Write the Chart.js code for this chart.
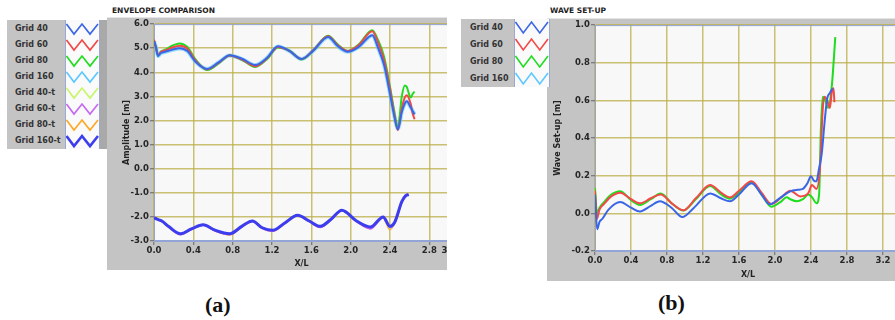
<!DOCTYPE html>
<html>
<head>
<meta charset="utf-8">
<script src="https://cdn.jsdelivr.net/npm/chart.js@4/dist/chart.umd.min.js"></script>
<style>
  html, body { margin: 0; padding: 0; background: #fff; width: 895px; height: 320px; overflow: hidden; }
  body { position: relative; font-family: "DejaVu Sans", sans-serif; }
  .title { position: absolute; font: bold 7.5px "DejaVu Sans", sans-serif; color: #222; white-space: nowrap; }
  .frame { position: absolute; background: #c4c4c4; overflow: hidden; border-top: 1px solid #e4e4e4; box-sizing: border-box; }
  .frame canvas { display: block; }
  .legend { position: absolute; background: #c4c4c4; z-index: 2; box-sizing: border-box; }
  .legend .name { position: absolute; font: bold 8px "DejaVu Sans", sans-serif; color: #333; white-space: nowrap; }
  .legend .swatches { position: absolute; top: 0; bottom: 0; background: #fafafa; border-left: 1px solid #9aa8d4; border-right: 1px solid #9aa8d4; }
  .legend .shade { position: absolute; top: 0; bottom: 0; background: #a9a9a9; }
  .caption { position: absolute; font: bold 22px "Liberation Serif", serif; color: #111; line-height: 22px; }
</style>
</head>
<body>

<div class="title" style="left:112px; top:6px;">ENVELOPE COMPARISON</div>
<div class="title" style="left:550px; top:6px;">WAVE SET-UP</div>

<div id="legendEnv" class="legend" style="left:7px; top:20px; width:100px; height:129px;"></div>
<div class="frame" style="left:107px; top:17px; width:340px; height:253px;">
  <canvas id="envChart" width="362" height="253"></canvas>
</div>

<div id="legendSetup" class="legend" style="left:461px; top:19px; width:89px; height:68px;"></div>
<div class="frame" style="left:547px; top:18px; width:348px; height:263px;">
  <canvas id="setupChart" width="370" height="263"></canvas>
</div>

<div class="caption" style="left:205px; top:294px;">(a)</div>
<div class="caption" style="left:658px; top:292px;">(b)</div>

<script>
// ---------- Envelope comparison: crest (upper) and trough (lower) envelopes ----------
const envNames = ['Grid 40', 'Grid 60', 'Grid 80', 'Grid 160', 'Grid 40-t', 'Grid 60-t', 'Grid 80-t', 'Grid 160-t'];

const crestX   = [0.00, 0.02, 0.04, 0.07, 0.12, 0.18, 0.26, 0.34, 0.42, 0.54, 0.66, 0.77, 0.90, 1.03, 1.15, 1.26, 1.38, 1.50,
                  1.62, 1.77, 1.87, 1.97, 2.08, 2.22, 2.28, 2.34, 2.40, 2.44, 2.48, 2.52, 2.55, 2.57, 2.61, 2.63, 2.65];
const crest40  = [5.30, 5.05, 4.68, 4.80, 4.86, 4.93, 5.00, 4.88, 4.45, 4.14, 4.42, 4.71, 4.55, 4.30, 4.60, 5.08, 4.88, 4.55,
                  4.90, 5.46, 5.08, 4.85, 5.05, 5.54, 5.00, 4.30, 3.10, 2.25, 1.64, 2.35, 2.70, 2.80, 2.55, 2.40, 2.25];
const crest60  = [5.35, 5.00, 4.72, 4.85, 4.92, 5.02, 5.10, 4.98, 4.50, 4.12, 4.40, 4.70, 4.52, 4.25, 4.58, 5.05, 4.88, 4.55,
                  4.92, 5.50, 5.12, 4.88, 5.12, 5.70, 5.22, 4.50, 3.30, 2.35, 1.60, 2.50, 2.95, 3.05, 2.70, 2.30, 2.05];
const crest80  = [5.32, 5.02, 4.70, 4.86, 4.95, 5.10, 5.20, 5.05, 4.55, 4.10, 4.38, 4.70, 4.50, 4.22, 4.55, 5.03, 4.90, 4.53,
                  4.90, 5.52, 5.15, 4.88, 5.15, 5.75, 5.32, 4.65, 3.40, 2.45, 1.72, 3.00, 3.45, 3.40, 2.95, 3.10, 3.20];
const crest160 = [5.28, 5.04, 4.67, 4.79, 4.85, 4.92, 4.99, 4.87, 4.45, 4.14, 4.42, 4.70, 4.54, 4.30, 4.60, 5.07, 4.87, 4.55,
                  4.90, 5.45, 5.07, 4.85, 5.05, 5.53, 5.00, 4.30, 3.12, 2.27, 1.66, 2.36, 2.70, 2.79, 2.55, 2.40, 2.26];

const troughX   = [0.00, 0.05, 0.08, 0.15, 0.27, 0.38, 0.50, 0.62, 0.77, 0.90, 1.00, 1.10, 1.21, 1.33,
                   1.46, 1.58, 1.69, 1.80, 1.91, 2.06, 2.20, 2.33, 2.40, 2.45, 2.52, 2.56, 2.59];
const trough40  = [-2.03, -2.11, -2.17, -2.40, -2.71, -2.51, -2.33, -2.56, -2.72, -2.38, -2.17, -2.45, -2.57, -2.26,
                   -1.94, -2.18, -2.42, -2.11, -1.73, -2.18, -2.46, -2.01, -2.47, -2.22, -1.38, -1.13, -1.08];
const trough60  = [-2.02, -2.13, -2.19, -2.42, -2.73, -2.52, -2.34, -2.57, -2.73, -2.39, -2.18, -2.46, -2.59, -2.27,
                   -1.94, -2.19, -2.43, -2.12, -1.73, -2.19, -2.49, -2.02, -2.44, -2.23, -1.38, -1.13, -1.08];
const trough80  = [-2.04, -2.12, -2.18, -2.41, -2.72, -2.51, -2.33, -2.57, -2.74, -2.38, -2.17, -2.45, -2.58, -2.26,
                   -1.93, -2.18, -2.42, -2.11, -1.72, -2.18, -2.47, -2.01, -2.52, -2.22, -1.38, -1.12, -1.07];
const trough160 = [-2.04, -2.12, -2.17, -2.40, -2.70, -2.50, -2.33, -2.55, -2.70, -2.37, -2.17, -2.45, -2.55, -2.25,
                   -1.93, -2.17, -2.39, -2.10, -1.72, -2.17, -2.42, -2.00, -2.39, -2.20, -1.37, -1.12, -1.07];

const envXTicks = [0.0, 0.4, 0.8, 1.2, 1.6, 2.0, 2.4, 2.8, 3.0];
const envYTicks = [-3, -2, -1, 0, 1, 2, 3, 4, 5, 6];

// ---------- Wave set-up ----------
const setupNames = ['Grid 40', 'Grid 60', 'Grid 80', 'Grid 160'];

const setupX40 = [0.00, 0.01, 0.025, 0.05, 0.08, 0.15, 0.28, 0.40, 0.50, 0.62, 0.72, 0.85, 0.97, 1.10, 1.28, 1.40, 1.50, 1.60,
                  1.74, 1.85, 1.94, 2.05, 2.17, 2.25, 2.31, 2.36, 2.40, 2.43, 2.46, 2.49, 2.52, 2.55, 2.58, 2.61, 2.64];
const setup40  = [0.10, 0.00, -0.085, -0.045, -0.03, 0.02, 0.06, 0.03, 0.01, 0.04, 0.064, 0.03, -0.02, 0.03, 0.106, 0.08, 0.064, 0.10,
                  0.16, 0.10, 0.048, 0.08, 0.117, 0.125, 0.13, 0.16, 0.197, 0.175, 0.17, 0.24, 0.32, 0.48, 0.61, 0.64, 0.665];

const setupX60 = [0.00, 0.01, 0.02, 0.05, 0.10, 0.18, 0.28, 0.40, 0.50, 0.62, 0.73, 0.86, 0.98, 1.12, 1.28, 1.40, 1.50, 1.60,
                  1.74, 1.85, 1.96, 2.06, 2.17, 2.28, 2.37, 2.41, 2.46, 2.50, 2.53, 2.55, 2.58, 2.61, 2.63, 2.65, 2.66];
const setup60  = [0.12, 0.03, -0.03, 0.02, 0.05, 0.09, 0.11, 0.075, 0.053, 0.08, 0.10, 0.05, 0.016, 0.08, 0.15, 0.11, 0.085, 0.12,
                  0.17, 0.11, 0.05, 0.08, 0.12, 0.09, 0.107, 0.15, 0.13, 0.24, 0.55, 0.62, 0.60, 0.56, 0.64, 0.665, 0.59];

const setupX80 = [0.00, 0.01, 0.02, 0.05, 0.10, 0.18, 0.28, 0.40, 0.50, 0.62, 0.73, 0.86, 0.98, 1.12, 1.28, 1.40, 1.50, 1.60,
                  1.74, 1.85, 1.96, 2.06, 2.13, 2.17, 2.24, 2.31, 2.37, 2.42, 2.46, 2.49, 2.51, 2.53, 2.56, 2.59, 2.63, 2.67];
const setup80  = [0.135, 0.06, 0.00, 0.03, 0.06, 0.10, 0.118, 0.07, 0.045, 0.075, 0.105, 0.05, 0.015, 0.075, 0.145, 0.10, 0.078, 0.11,
                  0.165, 0.10, 0.035, 0.06, 0.085, 0.075, 0.064, 0.075, 0.10, 0.08, 0.053, 0.10, 0.45, 0.62, 0.60, 0.56, 0.67, 0.936];

const setupX160 = [];
const setup160  = [];

const setupXTicks = [0.0, 0.4, 0.8, 1.2, 1.6, 2.0, 2.4, 2.8, 3.2];
const setupYTicks = [-0.2, 0.0, 0.2, 0.4, 0.6, 0.8, 1.0];

// ---------- styling ----------
const envColors   = ['#3a66e6', '#f24848', '#1fdc1f', '#5cc8ff', '#c8f56a', '#c66af2', '#ffa826', '#3d3df0'];
const setupColors = ['#3a66e6', '#f24848', '#1fdc1f', '#5cc8ff'];
const TICK_FONT  = { family: '"DejaVu Sans", sans-serif', size: 8.5, weight: 'bold' };
const TITLE_FONT = { family: '"DejaVu Sans", sans-serif', size: 8, weight: 'bold' };

const toPoints = (xs, ys) => xs.map((x, i) => ({ x, y: ys[i] }));

function line(label, xs, ys, color, width, order) {
  return {
    label, data: toPoints(xs, ys), borderColor: color, backgroundColor: color,
    borderWidth: width, pointRadius: 0, fill: false, order,
    cubicInterpolationMode: 'monotone'
  };
}

// light plot background plus a thin frame around the plotting area
const plotArea = {
  id: 'plotArea',
  beforeDraw(chart) {
    const { ctx, chartArea: a } = chart;
    ctx.save();
    ctx.fillStyle = '#f8f8f8';
    ctx.fillRect(a.left, a.top, a.right - a.left, a.bottom - a.top);
    ctx.restore();
  },
  beforeDatasetsDraw(chart) {
    const { ctx, chartArea: a } = chart;
    ctx.save();
    ctx.strokeStyle = '#93a4d6';
    ctx.lineWidth = 1;
    ctx.strokeRect(a.left + 0.5, a.top + 0.5, a.right - a.left - 1, a.bottom - a.top - 1);
    ctx.restore();
  }
};

function axis(ticks, min, max, titleText, titlePad, size, isX) {
  return {
    type: 'linear', min, max,
    afterBuildTicks: s => { s.ticks = ticks.map(value => ({ value })); },
    afterFit: s => { if (isX) s.height = size; else s.width = size; },
    ticks: {
      autoSkip: false, maxRotation: 0, padding: 1, color: '#262626', font: TICK_FONT,
      callback: v => Number(v).toFixed(1)
    },
    grid: { color: 'rgba(190,178,80,0.8)', lineWidth: 1.5, tickLength: 4, tickColor: '#666', tickWidth: 1 },
    border: { display: true, color: '#93a4d6', width: 1 },
    title: { display: true, text: titleText, color: '#222', font: TITLE_FONT, padding: titlePad }
  };
}

function build(id, datasets, xs, ys, pad, yWidth, xHeight, yTitle, yTitlePad) {
  return new Chart(document.getElementById(id), {
    type: 'line',
    data: { datasets },
    options: {
      responsive: false, animation: false, devicePixelRatio: 1,
      layout: { padding: pad },
      plugins: { legend: { display: false }, tooltip: { enabled: false } },
      scales: {
        x: axis(xs.ticks, xs.min, xs.max, 'X/L', { top: 0, bottom: 2 }, xHeight, true),
        y: axis(ys.ticks, ys.min, ys.max, yTitle, { top: yTitlePad, bottom: 0 }, yWidth, false)
      }
    },
    plugins: [plotArea]
  });
}

build('envChart', [
  line(envNames[0], crestX, crest40, envColors[0], 2, 1),
  line(envNames[1], crestX, crest60, envColors[1], 2, 2),
  line(envNames[2], crestX, crest80, envColors[2], 2, 3),
  line(envNames[3], crestX, crest160, 'rgba(92,200,255,0.6)', 4, 4),
  line(envNames[4], troughX, trough40, envColors[4], 2, 7),
  line(envNames[5], troughX, trough60, envColors[5], 2, 6),
  line(envNames[6], troughX, trough80, envColors[6], 2, 8),
  line(envNames[7], troughX, trough160, envColors[7], 3, 0)
], { ticks: envXTicks, min: 0, max: 3.0 }, { ticks: envYTicks, min: -3, max: 6 },
   { top: 6, right: 20, left: 0, bottom: 0 }, 47, 30, 'Amplitude [m]', 15);

build('setupChart', [
  line(setupNames[0], setupX40, setup40, setupColors[0], 2, 0),
  line(setupNames[1], setupX60, setup60, setupColors[1], 2, 1),
  line(setupNames[2], setupX80, setup80, setupColors[2], 2, 2),
  line(setupNames[3], setupX160, setup160, setupColors[3], 2, 3)
], { ticks: setupXTicks, min: 0, max: 3.4 }, { ticks: setupYTicks, min: -0.2, max: 1.0 },
   { top: 6, right: 16, left: 0, bottom: 0 }, 48, 31, 'Wave Set-up [m]', 6);

// ---------- legends with zig-zag swatches ----------
function legend(id, names, colors, rowH, topPad, textX, swX, swW, shadeW) {
  const box = document.getElementById(id);
  const sw = document.createElement('div');
  sw.className = 'swatches';
  sw.style.left = swX + 'px';
  sw.style.width = (swW - 2) + 'px';
  box.appendChild(sw);
  if (shadeW) {
    const sh = document.createElement('div');
    sh.className = 'shade';
    sh.style.left = (swX + swW) + 'px';
    sh.style.width = shadeW + 'px';
    box.appendChild(sh);
  }
  names.forEach((n, i) => {
    const top = topPad + i * rowH;
    const t = document.createElement('div');
    t.className = 'name';
    t.textContent = n;
    t.style.left = textX + 'px';
    t.style.top = (top + rowH / 2 - 5) + 'px';
    box.appendChild(t);
    const ns = 'http://www.w3.org/2000/svg';
    const svg = document.createElementNS(ns, 'svg');
    svg.setAttribute('width', swW - 2);
    svg.setAttribute('height', rowH);
    svg.style.position = 'absolute';
    svg.style.left = (swX + 1) + 'px';
    svg.style.top = top + 'px';
    const w = swW - 3, hi = 3, lo = rowH - 3;
    const pts = [[0.5, hi], [w / 4, lo], [w / 2, hi], [3 * w / 4, lo], [w, hi]].map(p => p.join(',')).join(' ');
    const pl = document.createElementNS(ns, 'polyline');
    pl.setAttribute('points', pts);
    pl.setAttribute('fill', 'none');
    pl.setAttribute('stroke', colors[i]);
    pl.setAttribute('stroke-width', n === 'Grid 160-t' ? 2.6 : 1.6);
    svg.appendChild(pl);
    box.appendChild(svg);
  });
}
legend('legendEnv', envNames, envColors, 16.1, 0.5, 8, 58, 35, 7);
legend('legendSetup', setupNames, setupColors, 17, 0, 9, 53, 36, 0);
</script>
</body>
</html>
